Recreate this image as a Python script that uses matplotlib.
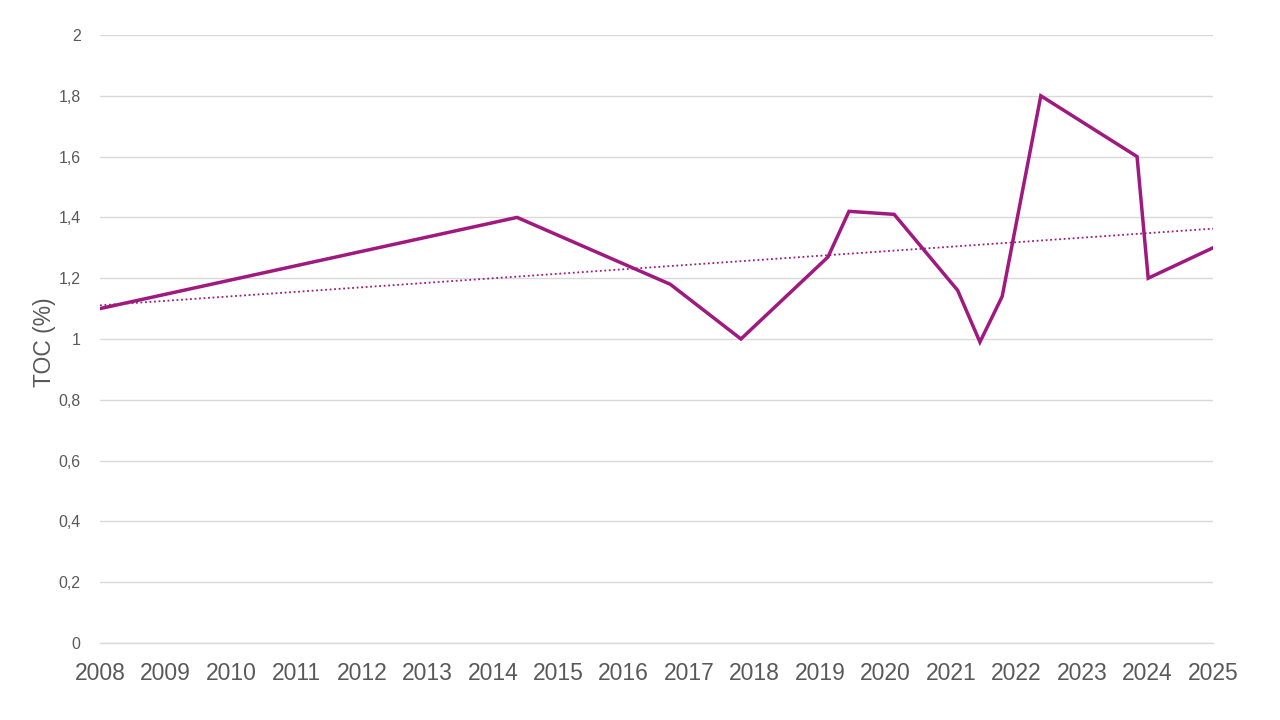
import matplotlib.pyplot as plt
import numpy as np

# TOC measurements (decimal year, %)
years = [2008.0, 2014.37, 2016.71, 2017.79, 2019.12, 2019.44, 2020.13,
         2021.10, 2021.44, 2021.78, 2022.37, 2023.84, 2024.01, 2025.0]
toc = [1.10, 1.40, 1.18, 1.00, 1.27, 1.42, 1.41,
       1.16, 0.99, 1.14, 1.80, 1.60, 1.20, 1.30]

year_ticks = list(range(2008, 2026))
y_ticks = [0, 0.2, 0.4, 0.6, 0.8, 1.0, 1.2, 1.4, 1.6, 1.8, 2.0]

color = "#A0197F"
plt.rcParams["font.family"] = ["Liberation Sans", "DejaVu Sans"]

fig = plt.figure(figsize=(12.8, 7.2), dpi=100)
ax = fig.add_axes([100 / 1280, 77 / 720, 1113 / 1280, 608 / 720])

ax.plot(years, toc, color=color, linewidth=2.5, solid_joinstyle="miter", zorder=3)

# linear trendline
coef = np.polyfit(years, toc, 1)
xt = np.array([year_ticks[0], year_ticks[-1]])
ax.plot(xt, np.polyval(coef, xt), color=color, linewidth=1.3, linestyle=(0, (1, 1.5)), zorder=2)

ax.set_xlim(year_ticks[0], year_ticks[-1])
ax.set_ylim(0, 2)
ax.set_xticks(year_ticks)
ax.set_xticklabels([str(y) for y in year_ticks], fontsize=16.5, color="#595959")
ax.set_yticks(y_ticks)
ax.set_yticklabels([f"{v:g}".replace(".", ",") for v in y_ticks], fontsize=11.5, color="#595959")
ax.tick_params(axis="x", length=0, pad=14)
ax.tick_params(axis="y", length=0, pad=14)
ax.grid(axis="y", color="#D9D9D9", linewidth=1)
ax.axhline(0, color="#D9D9D9", linewidth=1, clip_on=False, zorder=1)
ax.set_axisbelow(True)
for s in ax.spines.values():
    s.set_visible(False)

ax.set_ylabel("TOC (%)", fontsize=16.5, color="#595959", va="center")
ax.yaxis.set_label_coords(-0.05, 0.495)

fig.savefig("out.png", dpi=100)
